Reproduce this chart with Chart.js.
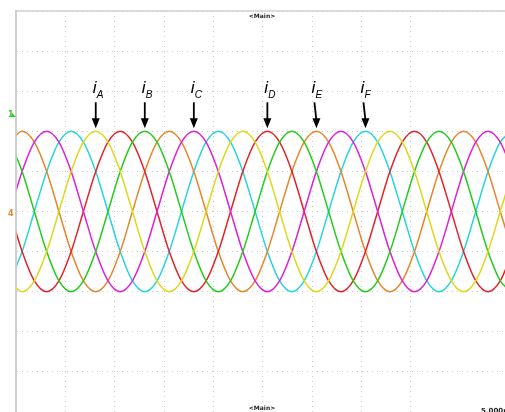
<!DOCTYPE html>
<html>
<head>
<meta charset="utf-8">
<script src="https://cdn.jsdelivr.net/npm/chart.js@4.4.0/dist/chart.umd.min.js"></script>
<style>
    html, body { margin: 0; padding: 0; background: #fff; overflow: hidden; }
    #wrap { width: 505px; height: 412px; }
</style>
</head>
<body>
<div id="wrap"><canvas id="scope" width="505" height="412"></canvas></div>
<script>
// ============================================
// DATA (read off the scope capture, 5 ms/div)
// ============================================
const sampleTimes = [-0.62, 0.62, 1.86, 3.11, 4.35, 5.59, 6.83, 8.08, 9.32, 10.56, 11.80, 13.05,
    14.29, 15.53, 16.77, 18.02, 19.26, 20.50, 21.74, 22.98, 24.23, 25.47, 26.71, 27.96,
    29.20, 30.44, 31.68, 32.93, 34.17, 35.41, 36.65, 37.89, 39.14, 40.38, 41.62, 42.86,
    44.11, 45.35, 46.59, 47.83, 49.07, 50.32];

const iA = [-1.73, -2.0, -1.73, -1.0, 0, 1.0, 1.73, 2.0, 1.73, 1.0, 0, -1.0,
    -1.73, -2.0, -1.73, -1.0, 0, 1.0, 1.73, 2.0, 1.73, 1.0, 0, -1.0,
    -1.73, -2.0, -1.73, -1.0, 0, 1.0, 1.73, 2.0, 1.73, 1.0, 0, -1.0,
    -1.73, -2.0, -1.73, -1.0, 0, 1.0];
const iB = [1.73, 1.0, 0, -1.0, -1.73, -2.0, -1.73, -1.0, 0, 1.0, 1.73, 2.0,
    1.73, 1.0, 0, -1.0, -1.73, -2.0, -1.73, -1.0, 0, 1.0, 1.73, 2.0,
    1.73, 1.0, 0, -1.0, -1.73, -2.0, -1.73, -1.0, 0, 1.0, 1.73, 2.0,
    1.73, 1.0, 0, -1.0, -1.73, -2.0];
const iC = [0, 1.0, 1.73, 2.0, 1.73, 1.0, 0, -1.0, -1.73, -2.0, -1.73, -1.0,
    0, 1.0, 1.73, 2.0, 1.73, 1.0, 0, -1.0, -1.73, -2.0, -1.73, -1.0,
    0, 1.0, 1.73, 2.0, 1.73, 1.0, 0, -1.0, -1.73, -2.0, -1.73, -1.0,
    0, 1.0, 1.73, 2.0, 1.73, 1.0];
const iD = [0, -1.0, -1.73, -2.0, -1.73, -1.0, 0, 1.0, 1.73, 2.0, 1.73, 1.0,
    0, -1.0, -1.73, -2.0, -1.73, -1.0, 0, 1.0, 1.73, 2.0, 1.73, 1.0,
    0, -1.0, -1.73, -2.0, -1.73, -1.0, 0, 1.0, 1.73, 2.0, 1.73, 1.0,
    0, -1.0, -1.73, -2.0, -1.73, -1.0];
const iE = [1.73, 2.0, 1.73, 1.0, 0, -1.0, -1.73, -2.0, -1.73, -1.0, 0, 1.0,
    1.73, 2.0, 1.73, 1.0, 0, -1.0, -1.73, -2.0, -1.73, -1.0, 0, 1.0,
    1.73, 2.0, 1.73, 1.0, 0, -1.0, -1.73, -2.0, -1.73, -1.0, 0, 1.0,
    1.73, 2.0, 1.73, 1.0, 0, -1.0];
const iF = [-1.73, -1.0, 0, 1.0, 1.73, 2.0, 1.73, 1.0, 0, -1.0, -1.73, -2.0,
    -1.73, -1.0, 0, 1.0, 1.73, 2.0, 1.73, 1.0, 0, -1.0, -1.73, -2.0,
    -1.73, -1.0, 0, 1.0, 1.73, 2.0, 1.73, 1.0, 0, -1.0, -1.73, -2.0,
    -1.73, -1.0, 0, 1.0, 1.73, 2.0];

const phaseNames = ['A', 'B', 'C', 'D', 'E', 'F'];
const phaseColors = ['#dcd81a', '#22cc1c', '#de20d6', '#e2242a', '#e6862a', '#28d4dc'];
// time of the peak each label arrow points at (ms)
const labelPeakTimes = [8.08, 13.05, 18.02, 25.47, 30.44, 35.41];
const peakLevel = 2.0;

// ============================================
// DECORACIONES DEL OSCILOSCOPIO
// ============================================
const scopeDecor = {
    id: 'scopeDecor',
    afterDraw(chart) {
        const ctx = chart.ctx;
        const area = chart.chartArea;
        const x = chart.scales.x;
        const y = chart.scales.y;
        ctx.save();

        // marco superior e izquierdo
        ctx.strokeStyle = '#cfcfcf';
        ctx.lineWidth = 1.5;
        ctx.beginPath();
        ctx.moveTo(area.left, area.bottom);
        ctx.lineTo(area.left, area.top);
        ctx.lineTo(505, area.top);
        ctx.stroke();

        // flechas y etiquetas i_A ... i_F
        const lean = { E: -2, F: -2 };
        phaseNames.forEach((name, k) => {
            const px = x.getPixelForValue(labelPeakTimes[k]);
            const tipY = y.getPixelForValue(peakLevel) - 3;
            const topX = px + (lean[name] || 0);
            const topY = tipY - 26;
            ctx.strokeStyle = '#000';
            ctx.fillStyle = '#000';
            ctx.lineWidth = 1.8;
            ctx.beginPath();
            ctx.moveTo(topX, topY);
            ctx.lineTo(px, tipY - 8);
            ctx.stroke();
            ctx.beginPath();
            ctx.moveTo(px, tipY);
            ctx.lineTo(px - 4, tipY - 10);
            ctx.lineTo(px + 4, tipY - 10);
            ctx.closePath();
            ctx.fill();

            ctx.textBaseline = 'alphabetic';
            ctx.textAlign = 'left';
            ctx.font = 'italic 17px "Liberation Sans", Arial, sans-serif';
            ctx.fillText('i', topX - 3, topY - 9);
            ctx.font = 'italic 10px "Liberation Sans", Arial, sans-serif';
            ctx.fillText(name, topX + 1, topY - 4);
        });

        // textos pequeños del osciloscopio
        ctx.fillStyle = '#222';
        ctx.textAlign = 'center';
        ctx.font = 'bold 6px "DejaVu Sans", sans-serif';
        ctx.fillText('<Main>', 262, 18);
        ctx.fillText('<Main>', 262, 410);
        ctx.textAlign = 'left';
        ctx.font = 'bold 7px "DejaVu Sans", sans-serif';
        ctx.fillText('5.000ms', 481, 413);

        // marcadores de canal
        ctx.font = 'bold 8px "DejaVu Sans", sans-serif';
        ctx.fillStyle = '#2ccc22';
        ctx.fillText('1', 8, 117);
        ctx.beginPath();
        ctx.moveTo(12, 117);
        ctx.lineTo(16, 117);
        ctx.lineTo(12, 113);
        ctx.closePath();
        ctx.fill();
        ctx.fillStyle = '#e4862a';
        ctx.fillText('4', 8, 216);
        ctx.restore();
    }
};

// ============================================
// GRÁFICA
// ============================================
const series = [iA, iB, iC, iD, iE, iF];
const datasets = series.map((vals, k) => ({
    label: 'i' + phaseNames[k],
    data: vals.map((v, j) => ({ x: sampleTimes[j], y: v })),
    borderColor: phaseColors[k],
    borderWidth: 1.5,
    pointRadius: 0,
    cubicInterpolationMode: 'monotone',
    fill: false
}));

new Chart(document.getElementById('scope').getContext('2d'), {
    type: 'line',
    data: { datasets },
    options: {
        responsive: false,
        animation: false,
        layout: { padding: { left: 16, top: 11, right: 0, bottom: 0 } },
        plugins: { legend: { display: false }, tooltip: { enabled: false } },
        scales: {
            x: {
                type: 'linear',
                min: 0,
                max: 49.55,
                ticks: { display: false, stepSize: 5 },
                grid: { color: '#cccccc', lineWidth: 1, drawTicks: false },
                border: { display: false, dash: [1, 4] }
            },
            y: {
                min: -5,
                max: 5,
                ticks: { display: false, stepSize: 1 },
                grid: { color: '#cccccc', lineWidth: 1, drawTicks: false },
                border: { display: true, color: '#cfcfcf', width: 2, dash: [1, 4] }
            }
        }
    },
    plugins: [scopeDecor]
});
</script>
</body>
</html>
